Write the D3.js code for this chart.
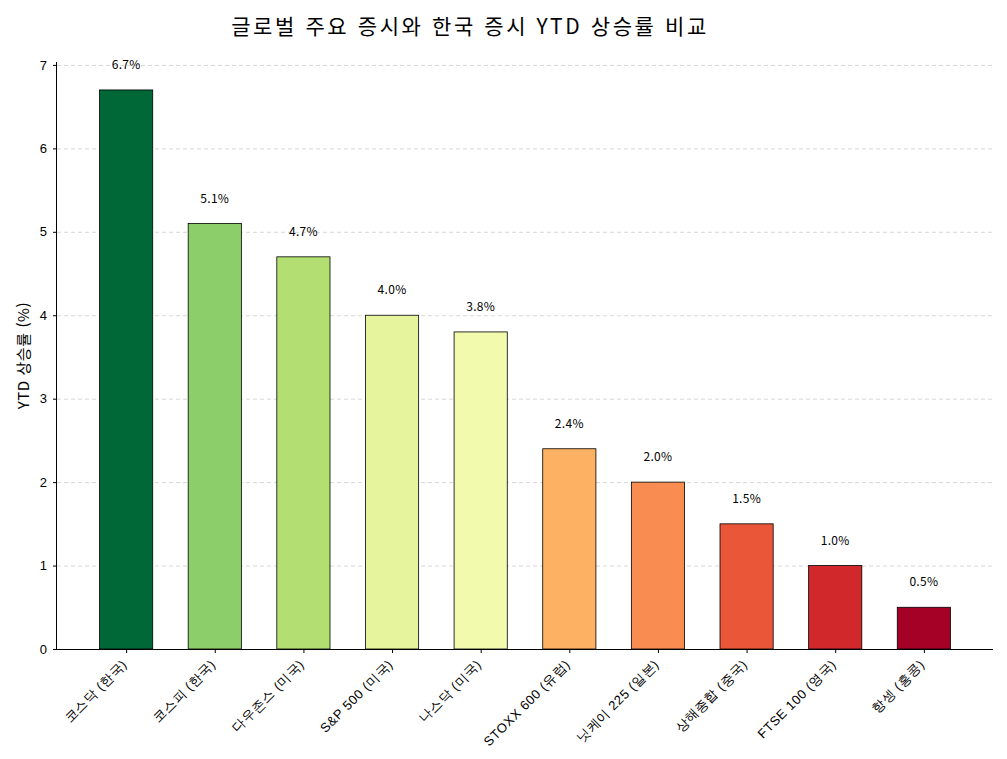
<!DOCTYPE html>
<html lang="ko">
  <head>
    <meta charset="UTF-8" />
    <title>글로벌 주요 증시와 한국 증시 YTD 상승률 비교</title>
    <style>
      body { margin: 0; background: #fff; }
      svg { font-family: "Noto Sans CJK KR", "Noto Sans", sans-serif; }
      .grid line { stroke: #ccc; stroke-dasharray: 4,3; stroke-width: 0.8; }
      .grid path { display: none; }
      .axis path, .axis line { stroke: #000; }
      .axis text { font-size: 13px; fill: #000; }
    </style>
  </head>
  <body>
    <div id="chart"></div>
    <script src="https://d3js.org/d3.v7.min.js"></script>
    <script>
      const markets = ['코스닥 (한국)', '코스피 (한국)', '다우존스 (미국)', 'S&P 500 (미국)', '나스닥 (미국)',
        'STOXX 600 (유럽)', '닛케이 225 (일본)', '상해종합 (중국)', 'FTSE 100 (영국)', '항셍 (홍콩)'];
      const ytd = [6.7, 5.1, 4.7, 4.0, 3.8, 2.4, 2.0, 1.5, 1.0, 0.5];
      const barColors = ['#006837', '#8ccf6a', '#b3df72', '#e6f59d', '#f2faae',
        '#fdb163', '#f88c51', '#e95638', '#d0282b', '#a50026'];
      const yTicks = [0, 1, 2, 3, 4, 5, 6, 7];

      const W = 1007, H = 759;
      const margin = { top: 62, right: 14, bottom: 110, left: 57 };
      const width = W - margin.left - margin.right;
      const height = H - margin.top - margin.bottom;

      const svg = d3.select('#chart').append('svg')
        .attr('width', W).attr('height', H);

      const g = svg.append('g')
        .attr('transform', `translate(${margin.left},${margin.top})`);

      // bar positions like matplotlib: width 0.6, margins 5%
      const n = markets.length;
      const pad = 0.05 * (n - 1 + 0.6);
      const x = d3.scaleLinear().domain([-0.3 - pad, n - 1 + 0.3 + pad]).range([0, width]);
      const y = d3.scaleLinear().domain([0, 6.7 * 1.05]).range([height, 0]);

      // grid
      g.append('g').attr('class', 'grid')
        .call(d3.axisLeft(y).tickValues(yTicks).tickSize(-width).tickFormat(''));

      // bars
      g.selectAll('.bar').data(ytd).enter().append('rect')
        .attr('class', 'bar')
        .attr('x', (d, i) => x(i - 0.3))
        .attr('width', x(0.3) - x(-0.3))
        .attr('y', d => y(d))
        .attr('height', d => height - y(d))
        .attr('fill', (d, i) => barColors[i])
        .attr('stroke', '#000').attr('stroke-width', 0.8);

      // value labels
      g.selectAll('.val').data(ytd).enter().append('text')
        .attr('class', 'val')
        .attr('x', (d, i) => x(i))
        .attr('y', d => y(d + 0.3))
        .attr('dy', '0.35em')
        .attr('text-anchor', 'middle')
        .style('font-size', '12px')
        .style('letter-spacing', '0.3px')
        .text(d => d.toFixed(1) + '%');

      // axes
      const yAxis = g.append('g').attr('class', 'axis')
        .call(d3.axisLeft(y).tickValues(yTicks).tickSize(4).tickPadding(6).tickFormat(d3.format('d')));
      yAxis.select('.domain').attr('d', `M-0.5,0V${height}`);

      const xAxis = g.append('g').attr('class', 'axis')
        .attr('transform', `translate(0,${height})`)
        .call(d3.axisBottom(x).tickValues(d3.range(n)).tickSize(4).tickFormat(i => markets[i]));
      xAxis.select('.domain').attr('d', `M0,0.5H${width}`);
      xAxis.selectAll('text')
        .attr('text-anchor', 'end')
        .attr('dy', null)
        .attr('y', 0)
        .style('letter-spacing', '0.6px')
        .attr('transform', 'translate(-2,13) rotate(-45)')
        .attr('dominant-baseline', 'central');

      // axis title
      svg.append('text')
        .attr('transform', `translate(22,${margin.top + height / 2}) rotate(-90)`)
        .attr('text-anchor', 'middle')
        .attr('dominant-baseline', 'central')
        .style('font-size', '15px')
        .style('letter-spacing', '0.6px')
        .text('YTD 상승률 (%)');

      // title
      svg.append('text')
        .attr('x', 470).attr('y', 25)
        .attr('text-anchor', 'middle')
        .attr('dominant-baseline', 'central')
        .style('font-size', '21px')
        .style('letter-spacing', '2.6px')
        .text('글로벌 주요 증시와 한국 증시 YTD 상승률 비교');
    </script>
  </body>
</html>
